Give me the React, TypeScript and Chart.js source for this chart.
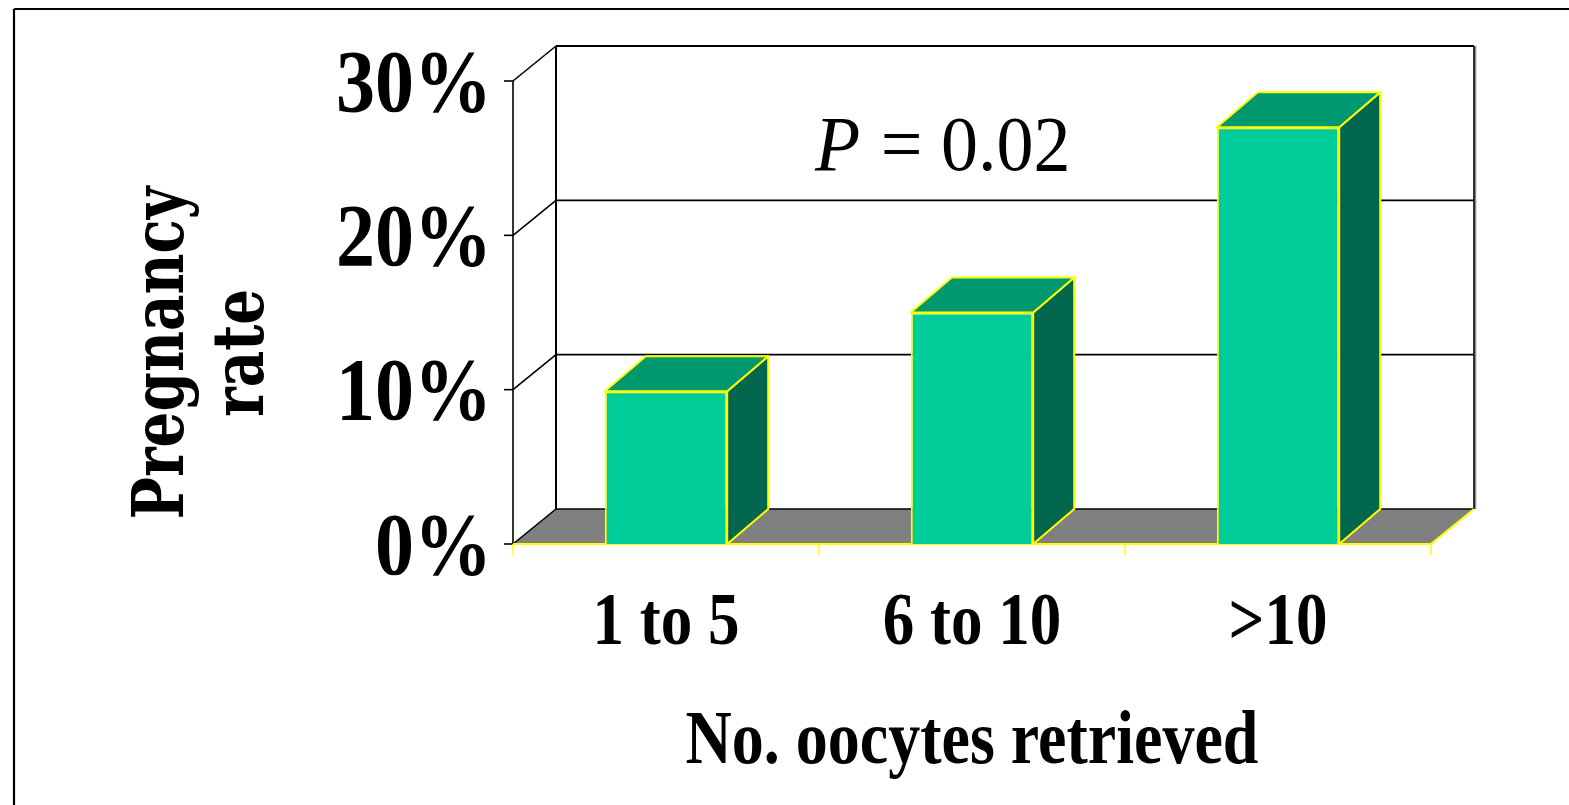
import React, { useEffect, useRef } from "react";
import { Chart, registerables } from "chart.js";

Chart.register(...registerables);

// ---- data ----
const categories = ["1 to 5", "6 to 10", ">10"];
const pregnancyRate = [9.9, 15.0, 27.0];
const yTickValues = [0, 10, 20, 30];
const yTickLabels = ["0%", "10%", "20%", "30%"];
const xTitle = "No. oocytes retrieved";
const yTitleLines = ["Pregnancy", "rate"];
const noteItalic = "P";
const noteRest = " = 0.02";

// ---- layout / style ----
const W = 1569;
const H = 805;
const WALL_DX = 43;
const WALL_DY = -35;
const BAR_DX = 41;
const BAR_DY = -35;
const FONT = '"Liberation Serif", "Times New Roman", serif';
const TITLE_FONT = '"DejaVu Serif", "Liberation Serif", serif';
const FRONT = "#00CC99";
const TOP = "#00996F";
const SIDE = "#00664D";
const EDGE = "#FFFF00";
const FLOOR = "#808080";

function drawText(
  ctx: CanvasRenderingContext2D,
  text: string,
  x: number,
  y: number,
  o: { size: number; weight?: string; style?: string; align?: CanvasTextAlign; sy?: number; rot?: boolean; family?: string }
) {
  ctx.save();
  ctx.translate(x, y);
  if (o.rot) ctx.rotate(-Math.PI / 2);
  ctx.scale(1, o.sy ?? 1);
  ctx.font = `${o.style ?? "normal"} ${o.weight ?? "normal"} ${o.size}px ${o.family ?? FONT}`;
  ctx.textAlign = o.align ?? "left";
  ctx.textBaseline = "alphabetic";
  ctx.fillStyle = "#000";
  ctx.fillText(text, 0, 0);
  ctx.restore();
}

function line(ctx: CanvasRenderingContext2D, x1: number, y1: number, x2: number, y2: number, color: string, w: number) {
  ctx.save();
  ctx.strokeStyle = color;
  ctx.lineWidth = w;
  ctx.beginPath();
  ctx.moveTo(x1, y1);
  ctx.lineTo(x2, y2);
  ctx.stroke();
  ctx.restore();
}

function poly(ctx: CanvasRenderingContext2D, pts: number[][], fill: string, stroke?: string, w = 2) {
  ctx.save();
  ctx.beginPath();
  ctx.moveTo(pts[0][0], pts[0][1]);
  for (let i = 1; i < pts.length; i++) ctx.lineTo(pts[i][0], pts[i][1]);
  ctx.closePath();
  ctx.fillStyle = fill;
  ctx.fill();
  if (stroke) {
    ctx.strokeStyle = stroke;
    ctx.lineWidth = w;
    ctx.lineJoin = "round";
    ctx.stroke();
  }
  ctx.restore();
}

const chart3d = {
  id: "chart3d",
  beforeDraw(chart: any) {
    const ctx = chart.ctx as CanvasRenderingContext2D;
    ctx.save();
    ctx.fillStyle = "#fff";
    ctx.fillRect(0, 0, W, H);
    ctx.restore();
    // outer frame
    line(ctx, 14, 9, W + 5, 9, "#000", 2.2);
    line(ctx, 14, 9, 14, H + 5, "#000", 2.2);
  },
  beforeDatasetsDraw(chart: any) {
    const ctx = chart.ctx as CanvasRenderingContext2D;
    const { left, right } = chart.chartArea;
    const ys = chart.scales.y;
    const y0 = ys.getPixelForValue(0);
    const yTop = ys.getPixelForValue(yTickValues[yTickValues.length - 1]);

    // back wall
    ctx.save();
    ctx.fillStyle = "#fff";
    ctx.fillRect(left + WALL_DX, yTop + WALL_DY, right - left, y0 - yTop);
    ctx.restore();

    // floor
    poly(
      ctx,
      [
        [left, y0],
        [right, y0],
        [right + WALL_DX, y0 + WALL_DY],
        [left + WALL_DX, y0 + WALL_DY],
      ],
      FLOOR
    );

    // back gridlines and left wall diagonals, front ticks
    for (const v of yTickValues) {
      const yv = ys.getPixelForValue(v);
      line(ctx, left + WALL_DX, yv + WALL_DY, right + WALL_DX, yv + WALL_DY, "#000", v === yTickValues[yTickValues.length - 1] ? 2 : 1.6);
      line(ctx, left, yv, left + WALL_DX, yv + WALL_DY, "#000", 1.6);
      line(ctx, left - 9, yv, left, yv, "#000", 1.6);
    }
    // back wall verticals
    line(ctx, left + WALL_DX, yTop + WALL_DY, left + WALL_DX, y0 + WALL_DY, "#000", 2);
    line(ctx, right + WALL_DX + 1.5, yTop + WALL_DY, right + WALL_DX + 1.5, y0 + WALL_DY, "#888", 1.5);
    line(ctx, right + WALL_DX, yTop + WALL_DY, right + WALL_DX, y0 + WALL_DY, "#000", 1.6);
    // front value axis
    line(ctx, left, yTop, left, y0, "#000", 1.6);

    // floor front and right edges (yellow), category ticks
    line(ctx, left, y0, right, y0, EDGE, 2);
    line(ctx, right, y0, right + WALL_DX, y0 + WALL_DY, EDGE, 2);
    const n = categories.length;
    for (let i = 0; i <= n; i++) {
      const x = left + (i * (right - left)) / n;
      line(ctx, x, y0, x, y0 + 11, EDGE, 1.6);
    }

    // bar top and side faces
    const meta = chart.getDatasetMeta(0);
    meta.data.forEach((el: any) => {
      const { x, y, width, base } = el.getProps(["x", "y", "width", "base"], true);
      const xl = x - width / 2;
      const xr = x + width / 2;
      poly(
        ctx,
        [
          [xr, y],
          [xr + BAR_DX, y + BAR_DY],
          [xr + BAR_DX, base + BAR_DY],
          [xr, base],
        ],
        SIDE,
        EDGE,
        2
      );
      poly(
        ctx,
        [
          [xl, y],
          [xr, y],
          [xr + BAR_DX, y + BAR_DY],
          [xl + BAR_DX, y + BAR_DY],
        ],
        TOP,
        EDGE,
        2
      );
    });
  },
  afterDraw(chart: any) {
    const ctx = chart.ctx as CanvasRenderingContext2D;
    const { left, right } = chart.chartArea;
    const ys = chart.scales.y;
    const xs = chart.scales.x;

    // value tick labels
    const vs = 78;
    const vsy = 1.13;
    yTickValues.forEach((v, i) => {
      const yv = ys.getPixelForValue(v);
      drawText(ctx, yTickLabels[i], left - 21, yv + (0.676 * vs * vsy) / 2, {
        size: vs,
        weight: "bold",
        align: "right",
        sy: vsy,
      });
    });

    // category labels
    categories.forEach((c, i) => {
      const x = xs.getPixelForValue(i);
      drawText(ctx, c, x, 644, { size: 63, weight: "bold", align: "center", sy: 1.18 });
    });

    // x title
    drawText(ctx, xTitle, (left + right) / 2, 763, { size: 64, weight: "bold", align: "center", sy: 1.2 });

    // y title (rotated, two lines) fitted to the reference box
    ctx.save();
    ctx.font = `normal bold 100px ${TITLE_FONT}`;
    const w100 = ctx.measureText(yTitleLines[0]).width;
    ctx.restore();
    const ts = (100 * 333) / w100;
    const tsy = 52 / (0.729 * ts);
    const cy = 353;
    drawText(ctx, yTitleLines[0], 183, cy, { size: ts, weight: "bold", align: "center", sy: tsy, rot: true, family: TITLE_FONT });
    drawText(ctx, yTitleLines[1], 263, cy, { size: ts, weight: "bold", align: "center", sy: tsy, rot: true, family: TITLE_FONT });

    // annotation
    const ns = 74;
    ctx.save();
    ctx.font = `italic normal ${ns}px ${FONT}`;
    const pw = ctx.measureText(noteItalic).width;
    ctx.restore();
    drawText(ctx, noteItalic, 815, 170, { size: ns, style: "italic", sy: 1.05 });
    drawText(ctx, noteRest, 817 + pw, 170, { size: ns, sy: 1.05 });
  },
};

export default function App() {
  const ref = useRef<HTMLCanvasElement | null>(null);
  useEffect(() => {
    if (!ref.current) return;
    const chart = new Chart(ref.current, {
      type: "bar",
      data: {
        labels: categories,
        datasets: [
          {
            data: pregnancyRate,
            backgroundColor: FRONT,
            borderColor: EDGE,
            borderWidth: 2,
            categoryPercentage: 1,
            barPercentage: 0.4,
          },
        ],
      },
      options: {
        responsive: false,
        animation: false,
        devicePixelRatio: 1,
        layout: { padding: { left: 513, right: W - 1431, top: 81, bottom: H - 544 } },
        plugins: { legend: { display: false }, tooltip: { enabled: false }, title: { display: false } },
        scales: {
          x: { display: false, offset: true, grid: { display: false } },
          y: { display: false, min: 0, max: 30, ticks: { stepSize: 10 }, grid: { display: false } },
        },
      },
      plugins: [chart3d],
    });
    return () => chart.destroy();
  }, []);
  return (
    <div style={{ position: "fixed", left: 0, top: 0, width: W, height: H, background: "#fff" }}>
      <canvas ref={ref} width={W} height={H} style={{ display: "block", width: W, height: H }} />
    </div>
  );
}
